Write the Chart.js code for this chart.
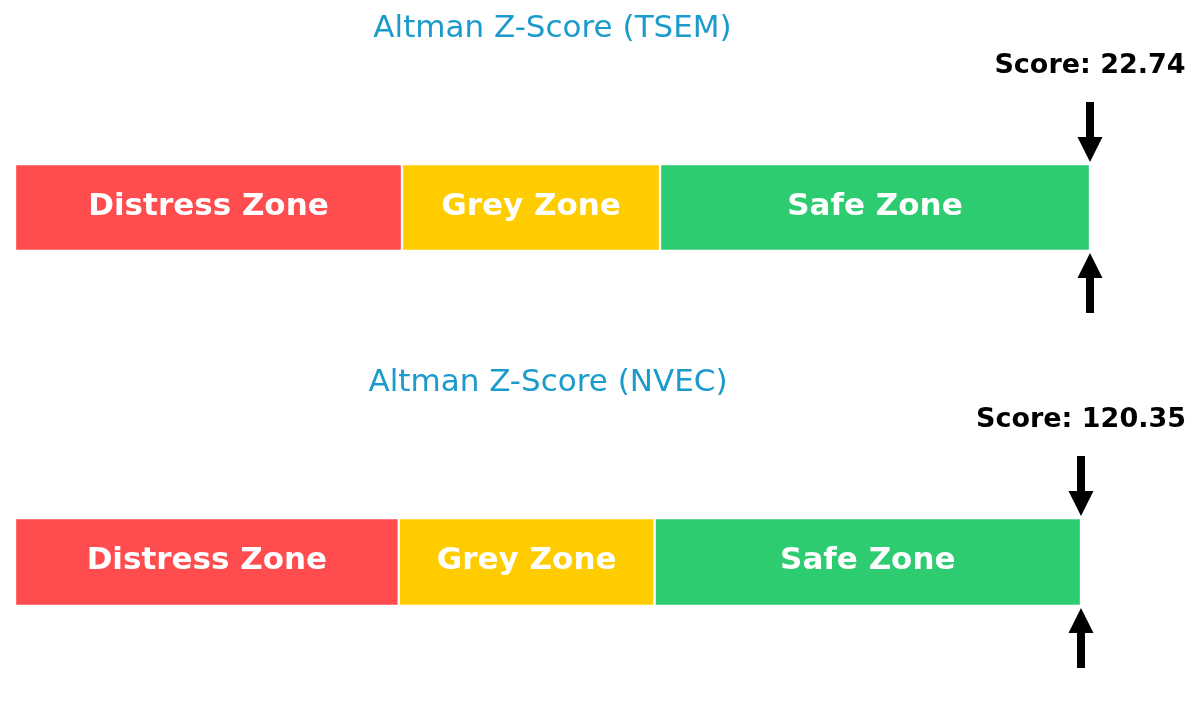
<!DOCTYPE html>
<html>
<head>
<meta charset="utf-8">
<script src="https://cdn.jsdelivr.net/npm/chart.js@4.4.0/dist/chart.umd.min.js"></script>
<style>
  html, body { margin: 0; padding: 0; background: #fff; }
  .box { position: relative; width: 1200px; }
</style>
</head>
<body>
<div class="box" style="height:354px"><canvas id="z0"></canvas></div>
<div class="box" style="height:355px"><canvas id="z1"></canvas></div>
<script>
// Altman Z-Score gauges
const companies = ["TSEM", "NVEC"];
const scores = [22.74, 120.35];
const zoneNames = ["Distress Zone", "Grey Zone", "Safe Zone"];
const zoneWidths = [1.8, 1.2, 2.0];
const zoneColors = ["#FF4D4F", "#FFCC00", "#2ECC71"];
const axisMax = 5;

const font = "'DejaVu Sans', sans-serif";

const gaugePlugin = {
  id: 'gauge',
  afterDatasetsDraw(chart, args, opts) {
    const ctx = chart.ctx;
    const area = chart.chartArea;
    const xs = chart.scales.x;
    ctx.save();

    // title
    ctx.fillStyle = '#1B9BCB';
    ctx.font = '31px ' + font;
    ctx.textAlign = 'center';
    ctx.textBaseline = 'middle';
    ctx.fillText('Altman Z-Score (' + opts.name + ')', (area.left + area.right) / 2, 29);

    // zone labels
    ctx.fillStyle = '#fff';
    ctx.font = 'bold 31px ' + font;
    let start = 0;
    zoneWidths.forEach((w, i) => {
      const cx = xs.getPixelForValue(start + w / 2);
      ctx.fillText(zoneNames[i], cx, (area.top + area.bottom) / 2 - 1);
      start += w;
    });

    // score marker
    const x = xs.getPixelForValue(Math.min(opts.score, axisMax));
    ctx.fillStyle = '#000';
    ctx.font = 'bold 27px ' + font;
    ctx.fillText('Score: ' + opts.score.toFixed(2), x, 66);

    const arrow = (tipY, dir) => {
      const headLen = 25, headHalf = 12.5, shaft = 4, len = 60;
      ctx.beginPath();
      ctx.moveTo(x, tipY);
      ctx.lineTo(x - headHalf, tipY - dir * headLen);
      ctx.lineTo(x - shaft, tipY - dir * headLen);
      ctx.lineTo(x - shaft, tipY - dir * len);
      ctx.lineTo(x + shaft, tipY - dir * len);
      ctx.lineTo(x + shaft, tipY - dir * headLen);
      ctx.lineTo(x + headHalf, tipY - dir * headLen);
      ctx.closePath();
      ctx.fill();
    };
    arrow(area.top - 2, 1);
    arrow(area.bottom + 2, -1);
    ctx.restore();
  }
};

const rightPad = [110, 119];

companies.forEach((name, k) => {
  new Chart(document.getElementById('z' + k), {
    type: 'bar',
    data: {
      labels: [name],
      datasets: zoneNames.map((z, i) => ({
        label: z,
        data: [zoneWidths[i]],
        backgroundColor: zoneColors[i],
        borderColor: '#ffffff',
        borderWidth: 1.5,
        borderSkipped: false,
        barPercentage: 1,
        categoryPercentage: 1
      }))
    },
    options: {
      indexAxis: 'y',
      responsive: true,
      maintainAspectRatio: false,
      animation: false,
      layout: { padding: { left: 15, right: rightPad[k], top: 164, bottom: 103 } },
      scales: {
        x: { stacked: true, min: 0, max: axisMax, display: false },
        y: { stacked: true, display: false }
      },
      plugins: {
        legend: { display: false },
        title: { display: false },
        tooltip: { enabled: false },
        gauge: { name: name, score: scores[k] }
      }
    },
    plugins: [gaugePlugin]
  });
});
</script>
</body>
</html>
